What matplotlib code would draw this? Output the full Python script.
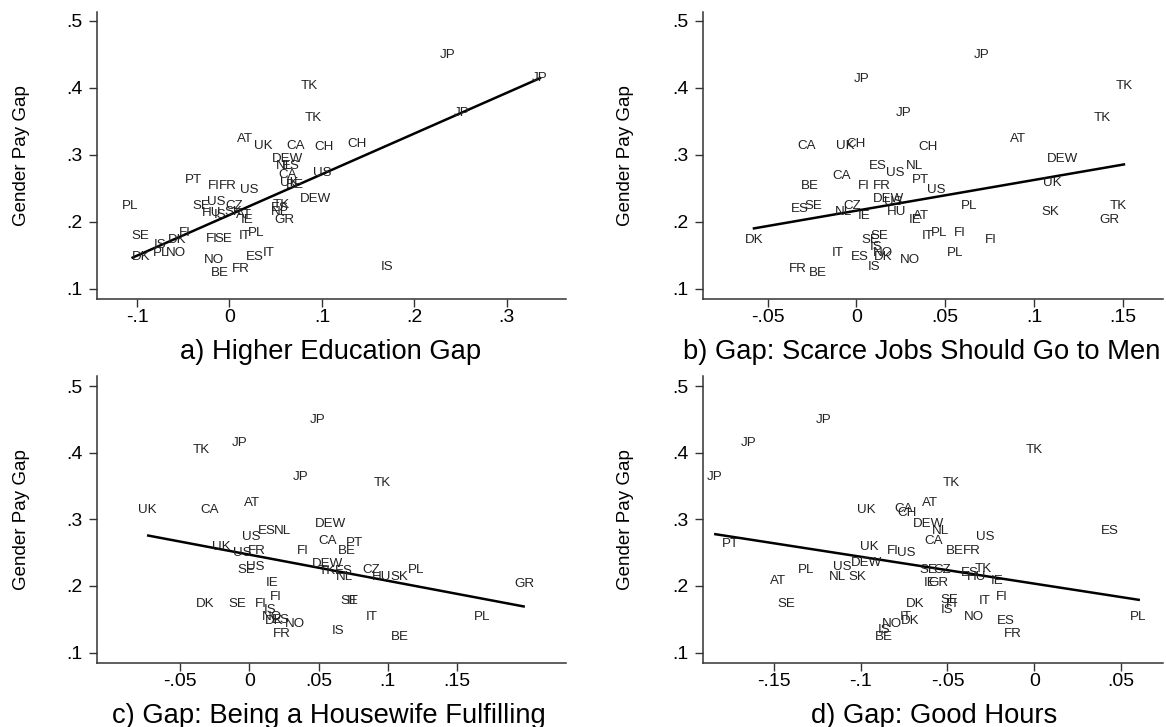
import matplotlib
matplotlib.use("Agg")
import matplotlib.pyplot as plt

plt.rcParams['font.family'] = ['Liberation Sans', 'DejaVu Sans']

# a) Higher Education Gap
a_labels = ["JP", "JP", "JP", "TK", "TK", "AT", "UK", "CA", "CH", "CH", "DEW", "NL", "ES", "US",
            "CA", "UK", "BE", "PT", "FI", "FR", "US", "DEW", "PL", "SE", "US", "CZ", "HU", "IS",
            "SK", "AT", "IE", "TK", "ES", "NL", "GR", "SE", "FI", "IS", "DK", "DK", "PL", "NO",
            "FI", "SE", "IT", "PL", "NO", "ES", "IT", "BE", "FR", "IS"]
a_x = [0.227, 0.327, 0.243, 0.077, 0.081, 0.008, 0.026, 0.062, 0.092, 0.127, 0.046, 0.050, 0.057, 0.090,
       0.053, 0.055, 0.061, -0.048, -0.023, -0.012, 0.011, 0.076, -0.116, -0.040, -0.024, -0.004, -0.030, -0.017,
       -0.005, 0.007, 0.012, 0.047, 0.045, 0.045, 0.049, -0.106, -0.055, -0.082, -0.067, -0.106, -0.083, -0.069,
       -0.026, -0.016, 0.010, 0.020, -0.028, 0.018, 0.036, -0.020, 0.003, 0.164]
a_y = [0.449, 0.414, 0.363, 0.403, 0.355, 0.323, 0.313, 0.313, 0.311, 0.316, 0.294, 0.283, 0.283, 0.273,
       0.270, 0.258, 0.255, 0.262, 0.254, 0.254, 0.247, 0.234, 0.223, 0.224, 0.229, 0.224, 0.213, 0.210,
       0.215, 0.210, 0.203, 0.225, 0.220, 0.214, 0.203, 0.179, 0.184, 0.165, 0.173, 0.147, 0.154, 0.154,
       0.174, 0.174, 0.179, 0.183, 0.143, 0.148, 0.154, 0.124, 0.129, 0.133]
a_fit_x = [-0.106, 0.337]
a_fit_y = [0.146, 0.415]

# b) Gap: Scarce Jobs Should Go to Men
b_labels = ["JP", "JP", "TK", "JP", "TK", "AT", "CA", "UK", "CH", "CH", "DEW", "ES", "US", "NL",
            "CA", "PT", "BE", "FI", "FR", "US", "UK", "DEW", "US", "PL", "ES", "SE", "CZ", "NL",
            "IE", "HU", "IE", "AT", "SK", "TK", "GR", "DK", "SE", "SE", "IS", "NO", "DK", "IS",
            "IT", "ES", "NO", "IT", "PL", "FI", "FI", "PL", "FR", "BE"]
b_x = [0.0659, -0.0015, 0.1457, 0.0224, 0.1333, 0.0866, -0.0332, -0.0114, -0.0056, 0.0346, 0.1072, 0.0068, 0.0166, 0.0276,
       -0.0135, 0.0313, -0.0311, 0.0006, 0.0093, 0.0398, 0.1051, 0.0093, 0.0155, 0.0587, -0.0367, -0.0294, -0.0073, -0.0124,
       0.0010, 0.0172, 0.0294, 0.0321, 0.1042, 0.1426, 0.1368, -0.0628, 0.0077, 0.0027, 0.0073, 0.0093, 0.0097, 0.0066,
       -0.0139, -0.0031, 0.0245, 0.0369, 0.0419, 0.0549, 0.0725, 0.0508, -0.0379, -0.0269]
b_y = [0.449, 0.413, 0.403, 0.362, 0.355, 0.323, 0.313, 0.313, 0.316, 0.311, 0.294, 0.284, 0.273, 0.284,
       0.269, 0.263, 0.254, 0.254, 0.254, 0.247, 0.258, 0.234, 0.229, 0.224, 0.219, 0.224, 0.224, 0.214,
       0.209, 0.214, 0.203, 0.209, 0.214, 0.224, 0.203, 0.173, 0.179, 0.173, 0.163, 0.154, 0.147, 0.133,
       0.154, 0.147, 0.143, 0.179, 0.184, 0.184, 0.173, 0.153, 0.129, 0.124]
b_fit_x = [-0.0584, 0.1513]
b_fit_y = [0.190, 0.286]

# c) Gap: Being a Housewife Fulfilling
c_labels = ["JP", "JP", "TK", "JP", "TK", "UK", "CA", "AT", "DEW", "US", "ES", "NL", "CA", "PT",
            "BE", "FI", "UK", "US", "FR", "DEW", "TK", "ES", "NL", "CZ", "HU", "SK", "PL", "SE",
            "US", "IE", "GR", "DK", "SE", "FI", "FI", "IS", "NO", "DK", "ES", "NO", "FR", "SE",
            "IT", "IT", "IS", "BE", "PL"]
c_x = [0.0433, -0.0128, -0.0409, 0.0313, 0.0896, -0.0802, -0.0350, -0.0040, 0.0473, -0.0056, 0.0059, 0.0179, 0.0500, 0.0695,
       0.0639, 0.0345, -0.0270, -0.0120, -0.0013, 0.0455, 0.0500, 0.0620, 0.0628, 0.0816, 0.0882, 0.1021, 0.1142, -0.0088,
       -0.0027, 0.0118, 0.1912, -0.0388, -0.0150, 0.0040, 0.0147, 0.0104, 0.0091, 0.0112, 0.0166, 0.0259, 0.0171, 0.0655,
       0.0700, 0.0840, 0.0594, 0.1021, 0.1618]
c_y = [0.449, 0.414, 0.404, 0.364, 0.354, 0.314, 0.314, 0.324, 0.293, 0.274, 0.282, 0.282, 0.268, 0.264,
       0.253, 0.253, 0.259, 0.249, 0.253, 0.233, 0.223, 0.222, 0.213, 0.224, 0.213, 0.214, 0.224, 0.224,
       0.229, 0.204, 0.203, 0.173, 0.173, 0.173, 0.184, 0.164, 0.153, 0.148, 0.149, 0.143, 0.128, 0.178,
       0.178, 0.153, 0.133, 0.124, 0.153]
c_fit_x = [-0.0738, 0.1989]
c_fit_y = [0.276, 0.169]

# d) Gap: Good Hours
d_labels = ["JP", "JP", "JP", "TK", "TK", "AT", "UK", "CA", "CH", "DEW", "NL", "US", "CA", "ES",
            "PT", "UK", "FI", "US", "BE", "FR", "US", "DEW", "PL", "NL", "SK", "AT", "SE", "CZ",
            "ES", "HU", "TK", "IE", "GR", "IE", "SE", "DK", "SE", "FI", "IS", "IT", "FI", "NO",
            "ES", "FR", "IT", "DK", "NO", "IS", "BE", "PL"]
d_x = [-0.1258, -0.1692, -0.1888, -0.0049, -0.0530, -0.0649, -0.1020, -0.0806, -0.0791, -0.0700, -0.0590, -0.0335, -0.0636, 0.0386,
       -0.1803, -0.1007, -0.0850, -0.0791, -0.0509, -0.0409, -0.1162, -0.1056, -0.1364, -0.1183, -0.1071, -0.1523, -0.0664, -0.0579,
       -0.0420, -0.0388, -0.0346, -0.0250, -0.0611, -0.0636, -0.1480, -0.0742, -0.0543, -0.0509, -0.0537, -0.0318, -0.0223, -0.0403,
       -0.0218, -0.0176, -0.0774, -0.0770, -0.0876, -0.0901, -0.0918, 0.0551]
d_y = [0.449, 0.414, 0.364, 0.404, 0.354, 0.325, 0.314, 0.315, 0.309, 0.293, 0.283, 0.274, 0.268, 0.283,
       0.263, 0.259, 0.253, 0.249, 0.253, 0.253, 0.229, 0.234, 0.224, 0.214, 0.214, 0.208, 0.224, 0.224,
       0.219, 0.213, 0.225, 0.208, 0.204, 0.204, 0.173, 0.173, 0.179, 0.173, 0.164, 0.178, 0.184, 0.153,
       0.148, 0.128, 0.154, 0.148, 0.143, 0.134, 0.124, 0.153]
d_fit_x = [-0.1845, 0.0609]
d_fit_y = [0.278, 0.179]

y_ticks = [0.1, 0.2, 0.3, 0.4, 0.5]

W, H = 1166, 727
fig = plt.figure(figsize=(W / 100, H / 100), dpi=100)
fig.patch.set_facecolor("white")


def stata_fmt(v):
    s = "%g" % round(v, 4)
    return s.replace("0.", ".")


def panel(l, r, t, b, labels, xs, ys, fit_x, fit_y, xlim, ylim, xticks, title, title_x, ylab_x):
    ax = fig.add_axes([l / W, 1 - b / H, (r - l) / W, (b - t) / H])
    for lab, x, y in zip(labels, xs, ys):
        ax.text(x, y, lab, fontsize=9.6, color="#222222", ha="left", va="center")
    ax.plot(fit_x, fit_y, color="black", linewidth=1.8, solid_capstyle="butt")
    ax.set_xlim(xlim)
    ax.set_ylim(ylim)
    ax.set_xticks(xticks)
    ax.set_xticklabels([stata_fmt(v) for v in xticks])
    ax.set_yticks(y_ticks)
    ax.set_yticklabels([stata_fmt(v) for v in y_ticks])
    for s in ["top", "right"]:
        ax.spines[s].set_visible(False)
    for s in ["left", "bottom"]:
        ax.spines[s].set_color("#333333")
        ax.spines[s].set_linewidth(1.1)
    ax.tick_params(axis="both", direction="out", length=5.5, width=1, color="#333333", labelsize=14)
    ax.tick_params(axis="x", pad=2)
    ax.tick_params(axis="y", pad=5)
    fig.text(title_x / W, 1 - (b + 53) / H, title, fontsize=19.7, ha="center", va="center")
    fig.text(ylab_x / W, 1 - (t + b) / 2 / H, "Gender Pay Gap", fontsize=13.5, rotation=90,
             ha="center", va="center")
    return ax


panel(97, 566, 12, 299, a_labels, a_x, a_y, a_fit_x, a_fit_y, (-0.1433, 0.364), (0.085, 0.513),
      [-0.1, 0, 0.1, 0.2, 0.3], "a) Higher Education Gap", 331, 22)
panel(703, 1163, 12, 299, b_labels, b_x, b_y, b_fit_x, b_fit_y, (-0.0864, 0.1726), (0.085, 0.513),
      [-0.05, 0, 0.05, 0.1, 0.15], "b) Gap: Scarce Jobs Should Go to Men", 922, 625)
panel(97, 566, 376, 663, c_labels, c_x, c_y, c_fit_x, c_fit_y, (-0.1099, 0.2286), (0.0845, 0.515),
      [-0.05, 0, 0.05, 0.1, 0.15], "c) Gap: Being a Housewife Fulfilling", 329, 22)
panel(703, 1163, 376, 663, d_labels, d_x, d_y, d_fit_x, d_fit_y, (-0.1909, 0.0742), (0.0845, 0.515),
      [-0.15, -0.1, -0.05, 0, 0.05], "d) Gap: Good Hours", 934, 625)

fig.savefig("out.png", dpi=100)
